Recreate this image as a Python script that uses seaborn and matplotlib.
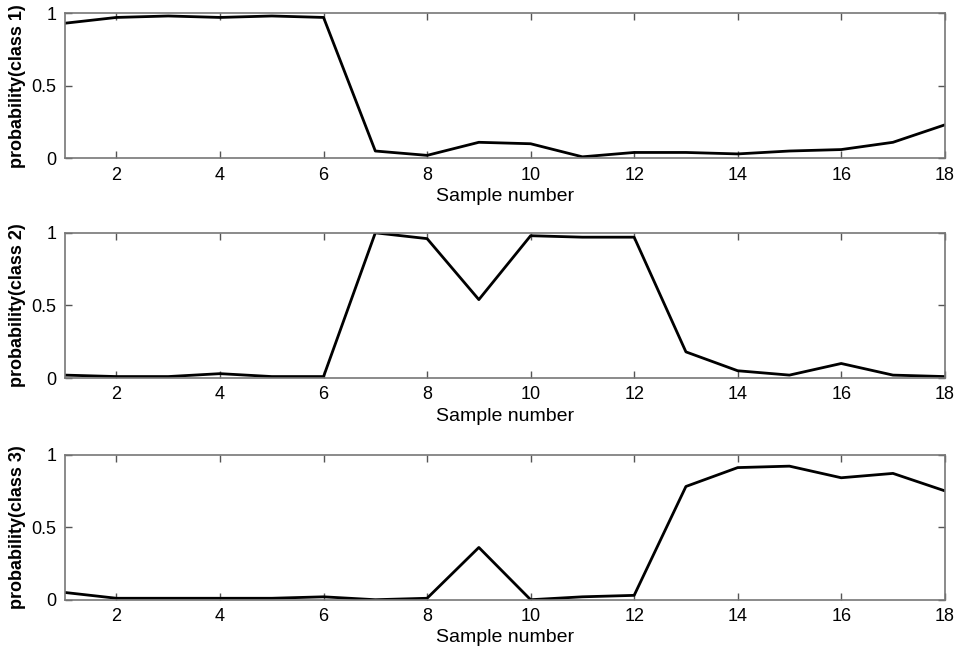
import matplotlib
matplotlib.use("Agg")
import matplotlib.pyplot as plt
import seaborn as sns
import pandas as pd

samples = list(range(1, 19))
class1 = [0.93, 0.97, 0.98, 0.97, 0.98, 0.97, 0.05, 0.02, 0.11, 0.10, 0.01, 0.04, 0.04, 0.03, 0.05, 0.06, 0.11, 0.23]
class2 = [0.02, 0.01, 0.01, 0.03, 0.01, 0.01, 1.00, 0.96, 0.54, 0.98, 0.97, 0.97, 0.18, 0.05, 0.02, 0.10, 0.02, 0.01]
class3 = [0.05, 0.01, 0.01, 0.01, 0.01, 0.02, 0.00, 0.01, 0.36, 0.00, 0.02, 0.03, 0.78, 0.91, 0.92, 0.84, 0.87, 0.75]
series = [class1, class2, class3]
ylabels = ["probability(class 1)", "probability(class 2)", "probability(class 3)"]
xticks = [2, 4, 6, 8, 10, 12, 14, 16, 18]
yticks = [0, 0.5, 1]
yticklabels = ["0", "0.5", "1"]

sns.set_style("white")
plt.rcParams['font.family'] = ['Liberation Sans', 'DejaVu Sans']
plt.rcParams['text.color'] = 'black'
plt.rcParams['axes.labelcolor'] = 'black'
plt.rcParams['xtick.color'] = 'black'
plt.rcParams['ytick.color'] = 'black'

fig = plt.figure(figsize=(9.66, 6.54), dpi=100)
bottoms = [0.758, 0.422, 0.083]
for vals, yl, b in zip(series, ylabels, bottoms):
    ax = fig.add_axes([0.067, b, 0.911, 0.222])
    df = pd.DataFrame({"x": samples, "y": vals})
    sns.lineplot(data=df, x="x", y="y", ax=ax, color="black", linewidth=2.0)
    ax.set_xlim(1, 18)
    ax.set_ylim(0, 1)
    ax.set_xticks(xticks)
    ax.set_xticklabels([str(t) for t in xticks], fontsize=13)
    ax.set_yticks(yticks)
    ax.set_yticklabels(yticklabels, fontsize=13)
    ax.tick_params(direction="in", length=5, width=1, top=True, right=True,
                   bottom=True, left=True, color="#555555", labelcolor="black", pad=6)
    ax.set_xlabel("Sample number", fontsize=14, labelpad=3, color="black")
    ax.set_ylabel(yl, fontsize=13, fontweight="bold", labelpad=4, color="black")
    for s in ax.spines.values():
        s.set_visible(True)
        s.set_color("#777777")
        s.set_linewidth(1.2)

fig.savefig("out.png", dpi=100)
